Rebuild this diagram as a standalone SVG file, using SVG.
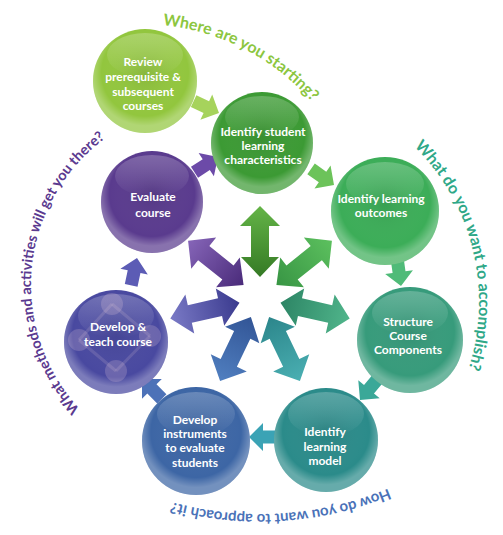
<svg xmlns="http://www.w3.org/2000/svg" width="503" height="535" viewBox="0 0 503 535">
<defs>
<style>
.lbl{font-family:Lato,"Liberation Sans",sans-serif;font-weight:bold;font-size:12px;fill:#ffffff;text-anchor:middle}
.arc{font-family:Lato,"Liberation Sans",sans-serif;font-weight:bold;text-anchor:middle}
.shade{fill:url(#shade)}
.gloss{fill:url(#gloss)}
.deco{fill:#f4d6e0;fill-opacity:0.2}
.decoline{stroke:#f4d6e0;stroke-opacity:0.15;stroke-width:3}
</style>
<radialGradient id="shade" cx="0.5" cy="0.42" r="0.58">
<stop offset="0" stop-color="#000000" stop-opacity="0.08"/>
<stop offset="0.72" stop-color="#ffffff" stop-opacity="0"/>
<stop offset="0.88" stop-color="#ffffff" stop-opacity="0.28"/>
</radialGradient>
<linearGradient id="gloss" x1="0" y1="0" x2="0" y2="1">
<stop offset="0" stop-color="#ffffff" stop-opacity="0.22"/>
<stop offset="1" stop-color="#ffffff" stop-opacity="0"/>
</linearGradient>
<linearGradient id="s0" x1="0" y1="0" x2="1" y2="0"><stop offset="0" stop-color="#357a25"/><stop offset="1" stop-color="#64b447"/></linearGradient>
<linearGradient id="s1" x1="0" y1="0" x2="1" y2="0"><stop offset="0" stop-color="#389544"/><stop offset="1" stop-color="#5cc05e"/></linearGradient>
<linearGradient id="s2" x1="0" y1="0" x2="1" y2="0"><stop offset="0" stop-color="#2d8565"/><stop offset="1" stop-color="#50b58b"/></linearGradient>
<linearGradient id="s3" x1="0" y1="0" x2="1" y2="0"><stop offset="0" stop-color="#2c868b"/><stop offset="1" stop-color="#4aafb2"/></linearGradient>
<linearGradient id="s4" x1="0" y1="0" x2="1" y2="0"><stop offset="0" stop-color="#325596"/><stop offset="1" stop-color="#507fc0"/></linearGradient>
<linearGradient id="s5" x1="0" y1="0" x2="1" y2="0"><stop offset="0" stop-color="#3a3a8e"/><stop offset="1" stop-color="#7a7ac6"/></linearGradient>
<linearGradient id="s6" x1="0" y1="0" x2="1" y2="0"><stop offset="0" stop-color="#4a2b7a"/><stop offset="1" stop-color="#8665b8"/></linearGradient>
<polygon id="dbl" points="21,0 41,-19 41,-9 72,-9 72,-20 92,0 72,20 72,9 41,9 41,19"/>
<polygon id="blk" points="-28,-6.5 -14,-6.5 -14,-14 0,0 -14,14 -14,6.5 -28,6.5"/>
<path id="pTop" d="M 122 24.7 A 229 229 0 0 1 335.6 134"/>
<path id="pRight" d="M 387.5 123.9 A 219 219 0 0 1 455.4 400.7"/>
<path id="pBottom" d="M 437 463.2 A 334 334 0 0 1 120.4 483.4"/>
<path id="pLeft" d="M 98.5 426.4 A 182 182 0 0 1 127.6 124.3"/>
</defs>

<rect width="503" height="535" fill="#ffffff"/>

<g id="center-arrows" transform="translate(260,298)">
<use href="#dbl" fill="url(#s0)" transform="rotate(-90)"/>
<use href="#dbl" fill="url(#s1)" transform="rotate(-38.57)"/>
<use href="#dbl" fill="url(#s2)" transform="rotate(12.86)"/>
<use href="#dbl" fill="url(#s3)" transform="rotate(64.29)"/>
<use href="#dbl" fill="url(#s4)" transform="rotate(115.71)"/>
<use href="#dbl" fill="url(#s5)" transform="rotate(167.14)"/>
<use href="#dbl" fill="url(#s6)" transform="rotate(218.57)"/>
</g>

<g id="connectors">
<use href="#blk" fill="#a6d35c" transform="translate(219,113) rotate(25)"/>
<use href="#blk" fill="#6cc35a" transform="translate(334,185) rotate(35)"/>
<use href="#blk" fill="#4fbb78" transform="translate(401,286) rotate(82)"/>
<use href="#blk" fill="#3aa898" transform="translate(360,400) rotate(130)"/>
<use href="#blk" fill="#3ba3b5" transform="translate(249,437) rotate(180)"/>
<use href="#blk" fill="#4d72b8" transform="translate(142,379) rotate(225)"/>
<use href="#blk" fill="#5c5cb5" transform="translate(137,258) rotate(-78)"/>
<use href="#blk" fill="#6c4aa8" transform="translate(218,157) rotate(-33)"/>
</g>

<g id="node-review" transform="translate(145,81)">
<circle r="52" fill="#92c63e"/><circle r="52" class="shade"/><ellipse cx="0" cy="-26" rx="38" ry="22" class="gloss"/>
<text class="lbl" x="-2" y="-15">Review</text>
<text class="lbl" x="-2" y="0">prerequisite &amp;</text>
<text class="lbl" x="-2" y="15">subsequent</text>
<text class="lbl" x="-2" y="29">courses</text>
</g>

<g id="node-student" transform="translate(262,143)">
<circle r="51" fill="#3c9a34"/><circle r="51" class="shade"/><ellipse cx="0" cy="-26" rx="37" ry="21" class="gloss"/>
<text class="lbl" x="1" y="-7">Identify student</text>
<text class="lbl" x="1" y="7">learning</text>
<text class="lbl" x="1" y="21">characteristics</text>
</g>

<g id="node-outcomes" transform="translate(385,211)">
<circle r="54" fill="#3cad58"/><circle r="54" class="shade"/><ellipse cx="0" cy="-27" rx="39" ry="22" class="gloss"/>
<text class="lbl" x="-4" y="-8">Identify learning</text>
<text class="lbl" x="-4" y="6">outcomes</text>
</g>

<g id="node-structure" transform="translate(410,340)">
<circle r="53" fill="#379b7b"/><circle r="53" class="shade"/><ellipse cx="0" cy="-27" rx="38" ry="22" class="gloss"/>
<text class="lbl" x="-2" y="-14">Structure</text>
<text class="lbl" x="-2" y="0">Course</text>
<text class="lbl" x="-2" y="14">Components</text>
</g>

<g id="node-model" transform="translate(326,440)">
<circle r="52" fill="#2b8b8a"/><circle r="52" class="shade"/><ellipse cx="0" cy="-26" rx="38" ry="22" class="gloss"/>
<text class="lbl" x="-1" y="-4">Identify</text>
<text class="lbl" x="-1" y="11">learning</text>
<text class="lbl" x="-1" y="25">model</text>
</g>

<g id="node-instruments" transform="translate(196,441)">
<circle r="54" fill="#3d66a5"/><circle r="54" class="shade"/><ellipse cx="0" cy="-27" rx="39" ry="22" class="gloss"/>
<text class="lbl" x="-1" y="-17">Develop</text>
<text class="lbl" x="-1" y="-3">instruments</text>
<text class="lbl" x="-1" y="11">to evaluate</text>
<text class="lbl" x="-1" y="26">students</text>
</g>

<g id="node-develop" transform="translate(116,342)">
<circle r="52" fill="#4949a0"/><circle r="52" class="shade"/><ellipse cx="0" cy="-26" rx="38" ry="22" class="gloss"/>
<line class="decoline" x1="-4" y1="-38" x2="34" y2="-6"/>
<line class="decoline" x1="34" y1="-6" x2="0" y2="29"/>
<line class="decoline" x1="0" y1="29" x2="-37" y2="-2"/>
<line class="decoline" x1="-37" y1="-2" x2="-4" y2="-38"/>
<circle class="deco" cx="-4" cy="-38" r="11"/>
<circle class="deco" cx="34" cy="-6" r="11"/>
<circle class="deco" cx="0" cy="29" r="11"/>
<circle class="deco" cx="-37" cy="-2" r="11"/>
<text class="lbl" x="2" y="-11">Develop &amp;</text>
<text class="lbl" x="2" y="4">teach course</text>
</g>

<g id="node-evaluate" transform="translate(152,202)">
<circle r="51" fill="#5a3b8e"/><circle r="51" class="shade"/><ellipse cx="0" cy="-26" rx="37" ry="21" class="gloss"/>
<text class="lbl" x="1" y="-1">Evaluate</text>
<text class="lbl" x="1" y="15">course</text>
</g>

<g id="arc-labels">
<text class="arc" font-size="16" fill="#8cc63f"><textPath href="#pTop" startOffset="65">Where</textPath></text>
<text class="arc" font-size="16" fill="#8cc63f"><textPath href="#pTop" startOffset="153.2">are you starting?</textPath></text>
<text class="arc" font-size="16" fill="#2fa888"><textPath href="#pRight" startOffset="65.8">What do</textPath></text>
<text class="arc" font-size="16" fill="#2fa888"><textPath href="#pRight" startOffset="188.3">you want to accomplish?</textPath></text>
<text class="arc" font-size="15" fill="#4a72b8"><textPath href="#pBottom" startOffset="50%">How do you want to approach it?</textPath></text>
<text class="arc" font-size="14.5" fill="#5b3a90"><textPath href="#pLeft" startOffset="118.2">What methods and activities</textPath></text>
<text class="arc" font-size="14.5" fill="#5b3a90"><textPath href="#pLeft" startOffset="272.8">will get you there?</textPath></text>
</g>
</svg>
